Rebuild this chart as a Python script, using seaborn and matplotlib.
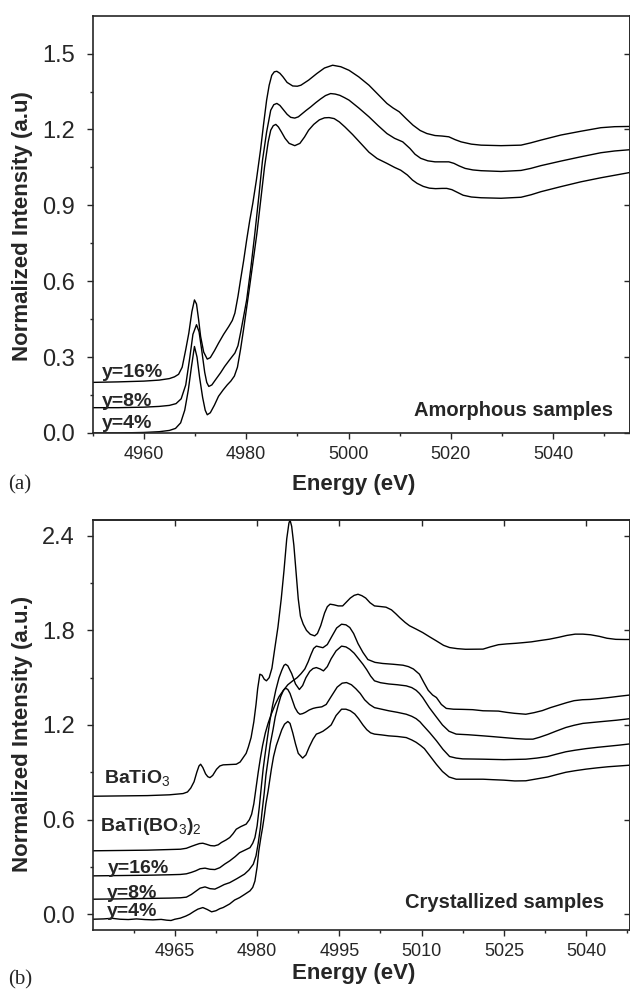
import numpy as np
import pandas as pd
import matplotlib
matplotlib.use("Agg")
import matplotlib.pyplot as plt
import seaborn as sns

# ---------------- data: amorphous samples (panel a), (energy eV, intensity) ----------------
am4 = [(4950, 0.0), (4955, 0.0), (4960, 0.002), (4963, 0.005), (4965, 0.01), (4966.2, 0.018),
       (4967.2, 0.04), (4968.0, 0.09), (4968.7, 0.17), (4969.3, 0.26), (4969.9, 0.342),
       (4970.4, 0.30), (4970.9, 0.22), (4971.5, 0.14), (4972.0, 0.09), (4972.4, 0.072),
       (4973.0, 0.08), (4973.8, 0.11), (4974.6, 0.145), (4975.5, 0.17), (4976.3, 0.19),
       (4977.0, 0.205), (4977.7, 0.225), (4978.3, 0.26), (4978.9, 0.33), (4979.5, 0.41),
       (4980.5, 0.553), (4981.3, 0.67), (4982.1, 0.789), (4982.9, 0.93), (4983.6, 1.053),
       (4984.3, 1.15), (4984.8, 1.197), (4985.3, 1.215), (4985.8, 1.22), (4986.3, 1.21),
       (4986.9, 1.19), (4987.6, 1.165), (4988.4, 1.145), (4989.5, 1.136), (4990.5, 1.145),
       (4991.4, 1.17), (4992.2, 1.197), (4993.2, 1.22), (4994.3, 1.238), (4995.3, 1.246),
       (4996.2, 1.247), (4997.2, 1.243), (4998.2, 1.23), (4999.3, 1.21), (5000.8, 1.18),
       (5002.4, 1.145), (5004.0, 1.11), (5005.6, 1.085), (5007.5, 1.066), (5009.0, 1.05),
       (5010.2, 1.039), (5011.5, 1.02), (5012.5, 1.0), (5013.4, 0.987), (5014.6, 0.975),
       (5015.8, 0.968), (5017.0, 0.966), (5018.3, 0.967), (5019.2, 0.967), (5020.2, 0.962),
       (5021.2, 0.952), (5022.4, 0.94), (5024.0, 0.933), (5025.9, 0.930), (5029.8, 0.928),
       (5033.7, 0.932), (5035.7, 0.942), (5037.6, 0.954), (5041.5, 0.974), (5045.4, 0.993),
       (5049.3, 1.009), (5055, 1.03)]

am8 = [(4950, 0.100), (4955, 0.100), (4960, 0.102), (4963, 0.105), (4965, 0.109),
       (4966.3, 0.116), (4967.3, 0.135), (4968.2, 0.19), (4969.0, 0.30), (4969.6, 0.39),
       (4970.3, 0.428), (4970.8, 0.40), (4971.3, 0.33), (4971.9, 0.24), (4972.3, 0.2),
       (4972.7, 0.184), (4973.3, 0.19), (4974.0, 0.21), (4975.0, 0.238), (4975.8, 0.263),
       (4976.8, 0.29), (4977.8, 0.316), (4978.4, 0.345), (4978.9, 0.395), (4979.5, 0.46),
       (4980.1, 0.526), (4980.9, 0.65), (4981.7, 0.789), (4982.5, 0.94), (4983.2, 1.079),
       (4984.0, 1.19), (4984.8, 1.276), (4985.4, 1.298), (4986.0, 1.303), (4986.6, 1.295),
       (4987.2, 1.28), (4988.0, 1.26), (4988.7, 1.248), (4989.5, 1.245), (4990.2, 1.25),
       (4990.8, 1.26), (4991.7, 1.275), (4992.6, 1.289), (4993.6, 1.306), (4994.5, 1.32),
       (4995.5, 1.334), (4996.5, 1.342), (4997.4, 1.34), (4998.3, 1.335), (4999.2, 1.326),
       (5000.1, 1.316), (5002.0, 1.285), (5004.0, 1.25), (5005.8, 1.215), (5007.5, 1.184),
       (5009.0, 1.165), (5010.6, 1.151), (5012.0, 1.125), (5013.0, 1.102), (5014.1, 1.086),
       (5015.5, 1.076), (5016.9, 1.072), (5018.3, 1.072), (5019.6, 1.072), (5020.6, 1.066),
       (5021.6, 1.056), (5022.8, 1.046), (5024.3, 1.04), (5025.9, 1.037), (5029.8, 1.034),
       (5033.7, 1.038), (5035.6, 1.046), (5037.6, 1.057), (5041.5, 1.075), (5045.4, 1.092),
       (5049.3, 1.108), (5052, 1.115), (5055, 1.12)]

am16 = [(4950, 0.200), (4955, 0.202), (4960, 0.205), (4963, 0.209), (4965, 0.215),
        (4966.0, 0.222), (4966.8, 0.232), (4967.5, 0.26), (4968.2, 0.33), (4968.8, 0.395),
        (4969.4, 0.48), (4969.9, 0.526), (4970.3, 0.51), (4970.7, 0.45), (4971.1, 0.382),
        (4971.7, 0.32), (4972.4, 0.292), (4973.0, 0.298), (4973.8, 0.325), (4974.6, 0.355),
        (4975.6, 0.39), (4976.6, 0.421), (4977.3, 0.445), (4977.8, 0.474), (4978.4, 0.54),
        (4978.9, 0.605), (4979.5, 0.68), (4980.1, 0.763), (4980.7, 0.84), (4981.3, 0.908),
        (4982.0, 1.0), (4982.8, 1.118), (4983.4, 1.22), (4984.0, 1.316), (4984.5, 1.375),
        (4985.0, 1.414), (4985.5, 1.428), (4986.0, 1.43), (4986.6, 1.422), (4987.2, 1.408),
        (4988.0, 1.386), (4989.1, 1.372), (4990.0, 1.371), (4990.7, 1.375), (4992.2, 1.395),
        (4993.8, 1.421), (4995.3, 1.443), (4996.9, 1.454), (4998.5, 1.448), (5000.1, 1.434),
        (5002.0, 1.408), (5004.0, 1.375), (5005.8, 1.338), (5007.5, 1.303), (5008.7, 1.285),
        (5009.9, 1.27), (5011.3, 1.242), (5012.6, 1.217), (5014.0, 1.196), (5015.3, 1.184),
        (5016.9, 1.176), (5018.3, 1.174), (5019.6, 1.171), (5020.8, 1.16), (5022.0, 1.151),
        (5024.0, 1.142), (5025.9, 1.138), (5029.8, 1.136), (5033.7, 1.138), (5035.6, 1.147),
        (5037.6, 1.158), (5041.5, 1.178), (5045.4, 1.193), (5049.3, 1.207), (5052, 1.211),
        (5055, 1.212)]

# ---------------- data: crystallized samples (panel b) ----------------
bto = [(4950, 0.748), (4955, 0.75), (4960, 0.752), (4964, 0.757), (4966.5, 0.765),
       (4967.3, 0.775), (4967.9, 0.80), (4968.5, 0.84), (4969.0, 0.90), (4969.4, 0.94),
       (4969.7, 0.951), (4970.1, 0.93), (4970.6, 0.89), (4971.0, 0.872), (4971.4, 0.866),
       (4971.9, 0.88), (4972.6, 0.919), (4973.2, 0.94), (4973.8, 0.947), (4975.0, 0.949),
       (4976.2, 0.951), (4976.9, 0.965), (4977.4, 0.99), (4978.0, 1.02), (4978.4, 1.06),
       (4978.9, 1.12), (4979.4, 1.22), (4979.8, 1.33), (4980.1, 1.43), (4980.5, 1.522),
       (4980.9, 1.515), (4981.3, 1.49), (4981.7, 1.48), (4982.2, 1.50), (4982.7, 1.56),
       (4983.2, 1.68), (4983.8, 1.821), (4984.4, 2.0), (4984.9, 2.179), (4985.4, 2.38),
       (4985.8, 2.48), (4986.0, 2.50), (4986.3, 2.46), (4986.7, 2.34), (4987.1, 2.17),
       (4987.5, 2.0), (4987.9, 1.89), (4988.4, 1.84), (4989.0, 1.80), (4989.7, 1.775),
       (4990.5, 1.765), (4991.0, 1.78), (4991.6, 1.83), (4992.3, 1.91), (4992.8, 1.95),
       (4993.3, 1.966), (4994.0, 1.962), (4994.8, 1.955), (4995.6, 1.955), (4996.3, 1.98),
       (4997.0, 2.005), (4997.7, 2.022), (4998.4, 2.029), (4999.1, 2.02), (4999.8, 2.005),
       (5000.6, 1.975), (5001.4, 1.955), (5002.5, 1.951), (5003.5, 1.947), (5004.5, 1.93),
       (5005.3, 1.905), (5006.0, 1.881), (5007.0, 1.85), (5007.8, 1.829), (5009.0, 1.808),
       (5010.2, 1.786), (5011.5, 1.758), (5012.7, 1.733), (5014.0, 1.705), (5015.1, 1.691),
       (5016.5, 1.684), (5018.0, 1.68), (5021.2, 1.681), (5022.5, 1.695), (5024.0, 1.709),
       (5025.5, 1.714), (5027.2, 1.718), (5028.5, 1.722), (5030.0, 1.727), (5031.5, 1.735),
       (5033.3, 1.744), (5035.0, 1.756), (5036.5, 1.768), (5038.0, 1.776), (5039.4, 1.776),
       (5040.8, 1.772), (5042.4, 1.762), (5043.8, 1.75), (5045.4, 1.743), (5047, 1.742),
       (5048, 1.742)]

btb = [(4950, 0.402), (4955, 0.404), (4960, 0.406), (4964, 0.41), (4966, 0.412),
       (4967.1, 0.418), (4968.0, 0.43), (4968.8, 0.44), (4969.5, 0.448), (4970.1, 0.45),
       (4970.8, 0.443), (4971.5, 0.435), (4972.2, 0.433), (4972.9, 0.44), (4973.5, 0.455),
       (4974.3, 0.47), (4975.0, 0.486), (4975.6, 0.51), (4976.2, 0.539), (4977.0, 0.555),
       (4978.0, 0.571), (4978.6, 0.6), (4979.0, 0.634), (4979.4, 0.70), (4979.8, 0.80),
       (4980.2, 0.90), (4980.6, 0.99), (4981.0, 1.07), (4981.5, 1.15), (4982.0, 1.21),
       (4982.6, 1.27), (4983.3, 1.33), (4984.0, 1.38), (4984.8, 1.42), (4985.6, 1.455),
       (4986.5, 1.48), (4987.3, 1.50), (4988.0, 1.525), (4988.7, 1.555), (4989.3, 1.60),
       (4989.8, 1.645), (4990.3, 1.685), (4990.8, 1.70), (4991.4, 1.695), (4992.0, 1.69),
       (4992.8, 1.71), (4993.6, 1.76), (4994.5, 1.815), (4995.4, 1.839), (4996.2, 1.835),
       (4996.9, 1.818), (4997.6, 1.78), (4998.4, 1.716), (4999.3, 1.66), (5000.2, 1.615),
       (5001.5, 1.597), (5002.9, 1.59), (5004.8, 1.585), (5006.6, 1.579), (5007.6, 1.57),
       (5008.5, 1.555), (5009.6, 1.522), (5010.4, 1.47), (5011.2, 1.42), (5012.0, 1.39),
       (5012.7, 1.374), (5013.6, 1.33), (5014.5, 1.305), (5015.8, 1.30), (5017.4, 1.299),
       (5019.3, 1.297), (5021.2, 1.29), (5022.7, 1.289), (5024.0, 1.288), (5025.5, 1.28),
       (5026.9, 1.274), (5029.0, 1.268), (5030.5, 1.278), (5032.0, 1.291), (5033.5, 1.31),
       (5035.0, 1.326), (5036.5, 1.342), (5037.8, 1.354), (5039.3, 1.36), (5040.8, 1.362),
       (5042.6, 1.368), (5044.4, 1.375), (5046, 1.382), (5048, 1.39)]

cr16 = [(4950, 0.243), (4955, 0.245), (4960, 0.247), (4964, 0.25), (4966, 0.252),
        (4967.1, 0.256), (4968.0, 0.265), (4968.8, 0.275), (4969.6, 0.288), (4970.5, 0.292),
        (4971.4, 0.285), (4972.3, 0.283), (4973.2, 0.295), (4974.1, 0.318), (4975.0, 0.338),
        (4976.0, 0.365), (4976.8, 0.39), (4977.7, 0.405), (4978.7, 0.422), (4979.2, 0.45),
        (4979.6, 0.486), (4980.0, 0.56), (4980.4, 0.68), (4980.8, 0.82), (4981.1, 0.92),
        (4981.4, 1.0), (4981.8, 1.10), (4982.3, 1.22), (4982.8, 1.32), (4983.4, 1.42),
        (4984.0, 1.50), (4984.5, 1.547), (4984.9, 1.578), (4985.2, 1.585), (4985.6, 1.575),
        (4986.3, 1.526), (4987.0, 1.46), (4987.7, 1.425), (4988.3, 1.45), (4988.9, 1.50),
        (4989.6, 1.54), (4990.2, 1.558), (4990.8, 1.564), (4991.5, 1.555), (4992.1, 1.543),
        (4992.8, 1.57), (4993.5, 1.62), (4994.4, 1.67), (4995.4, 1.70), (4996.2, 1.695),
        (4996.9, 1.68), (4997.7, 1.655), (4998.5, 1.62), (4999.3, 1.585), (5000.0, 1.55),
        (5000.7, 1.51), (5001.4, 1.48), (5002.5, 1.468), (5004.0, 1.46), (5005.6, 1.455),
        (5007.2, 1.448), (5008.2, 1.437), (5009.0, 1.42), (5009.6, 1.40), (5010.2, 1.374),
        (5011.4, 1.31), (5012.7, 1.25), (5013.8, 1.20), (5015.0, 1.16), (5016.3, 1.142),
        (5018.5, 1.138), (5021.2, 1.131), (5023, 1.126), (5025.0, 1.12), (5027, 1.114),
        (5029.0, 1.11), (5030.3, 1.11), (5031.5, 1.122), (5033.0, 1.14), (5034.6, 1.162),
        (5036.3, 1.184), (5037.8, 1.198), (5039.4, 1.21), (5041.2, 1.216), (5043.0, 1.222),
        (5045.5, 1.23), (5048, 1.24)]

cr8 = [(4950, 0.095), (4955, 0.097), (4960, 0.10), (4964, 0.102), (4966, 0.104),
       (4967.1, 0.108), (4968.0, 0.125), (4968.8, 0.145), (4969.6, 0.165), (4970.5, 0.173),
       (4971.4, 0.162), (4972.3, 0.159), (4973.1, 0.172), (4974.0, 0.188), (4975.0, 0.20),
       (4976.3, 0.225), (4977.7, 0.254), (4978.5, 0.28), (4979.3, 0.317), (4979.8, 0.37),
       (4980.2, 0.45), (4980.6, 0.55), (4980.9, 0.65), (4981.3, 0.77), (4981.6, 0.88),
       (4982.0, 0.98), (4982.4, 1.08), (4982.9, 1.17), (4983.3, 1.25), (4983.8, 1.32),
       (4984.3, 1.38), (4984.8, 1.42), (4985.2, 1.433), (4985.6, 1.425), (4986.0, 1.40),
       (4986.5, 1.35), (4986.9, 1.31), (4987.4, 1.28), (4987.8, 1.268), (4988.3, 1.272),
       (4988.8, 1.28), (4989.5, 1.295), (4990.2, 1.305), (4990.8, 1.31), (4991.8, 1.315),
       (4992.6, 1.33), (4993.5, 1.38), (4994.6, 1.44), (4995.5, 1.465), (4996.3, 1.469),
       (4997.2, 1.455), (4998.0, 1.43), (4998.8, 1.40), (4999.6, 1.36), (5000.5, 1.33),
       (5001.4, 1.31), (5002.7, 1.30), (5004.0, 1.29), (5005.6, 1.28), (5007.2, 1.268),
       (5008.2, 1.255), (5009.0, 1.24), (5009.7, 1.22), (5010.2, 1.20), (5011.5, 1.15),
       (5012.7, 1.10), (5013.9, 1.045), (5015.1, 1.00), (5016.3, 0.99), (5017.5, 0.985),
       (5021.2, 0.983), (5025.0, 0.98), (5029.0, 0.983), (5031, 0.99), (5033.0, 1.0),
       (5034.6, 1.015), (5036.3, 1.03), (5038, 1.04), (5040.0, 1.05), (5042, 1.058),
       (5044.0, 1.065), (5046, 1.072), (5048, 1.08)]

cr4 = [(4950, -0.032), (4952, -0.03), (4953.5, -0.026), (4955, -0.032), (4956.5, -0.034),
       (4958, -0.03), (4959.5, -0.034), (4961, -0.036), (4962.5, -0.033), (4963.5, -0.038),
       (4964.3, -0.04), (4965, -0.032), (4966, -0.025), (4967, -0.012), (4967.7, 0.0),
       (4968.5, 0.018), (4969.2, 0.032), (4970.1, 0.042), (4970.9, 0.03), (4971.7, 0.015),
       (4972.5, 0.022), (4973.2, 0.035), (4973.8, 0.042), (4975.0, 0.065), (4975.9, 0.09),
       (4976.8, 0.105), (4977.7, 0.125), (4978.7, 0.148), (4979.2, 0.17), (4979.6, 0.21),
       (4980.0, 0.30), (4980.3, 0.40), (4980.7, 0.49), (4981.0, 0.55), (4981.3, 0.62),
       (4981.6, 0.70), (4982.0, 0.78), (4982.3, 0.85), (4982.6, 0.92), (4983.0, 1.0),
       (4983.5, 1.07), (4984.0, 1.12), (4984.5, 1.17), (4985.0, 1.205), (4985.6, 1.222),
       (4986.0, 1.21), (4986.5, 1.15), (4987.0, 1.08), (4987.5, 1.02), (4988.3, 0.99),
       (4988.9, 1.01), (4989.5, 1.06), (4990.2, 1.11), (4990.8, 1.142), (4991.4, 1.15),
       (4992.0, 1.16), (4992.8, 1.18), (4993.5, 1.20), (4994.4, 1.26), (4995.4, 1.30),
       (4996.2, 1.30), (4997.0, 1.29), (4997.8, 1.27), (4998.5, 1.24), (4999.3, 1.20),
       (5000.0, 1.17), (5000.7, 1.15), (5001.4, 1.142), (5002.7, 1.137), (5004.0, 1.131),
       (5005.6, 1.127), (5007.2, 1.12), (5008.2, 1.105), (5009.0, 1.09), (5009.8, 1.07),
       (5010.5, 1.05), (5011.6, 1.0), (5012.7, 0.95), (5013.8, 0.905), (5015.0, 0.87),
       (5016.3, 0.856), (5018.5, 0.856), (5021.2, 0.856), (5023, 0.853), (5025.0, 0.85),
       (5027, 0.845), (5029.0, 0.846), (5031, 0.858), (5033.0, 0.87), (5034.6, 0.885),
       (5036.3, 0.9), (5038, 0.91), (5040.0, 0.92), (5042, 0.928), (5044.0, 0.935),
       (5046, 0.94), (5048, 0.945)]

amorphous = {"y=16%": am16, "y=8%": am8, "y=4%": am4}
crystallized = {"BaTiO3": bto, "BaTi(BO3)2": btb, "y=16%": cr16, "y=8%": cr8, "y=4%": cr4}

ticks_a = [0.0, 0.3, 0.6, 0.9, 1.2, 1.5]
ticks_b = [0.0, 0.6, 1.2, 1.8, 2.4]
xticks_a = [4960, 4980, 5000, 5020, 5040]
xticks_b = [4965, 4980, 4995, 5010, 5025, 5040]

# ---------------- style ----------------
sns.set_theme(style="ticks")
plt.rcParams["font.family"] = ["Liberation Sans", "DejaVu Sans"]
plt.rcParams["mathtext.fontset"] = "custom"
plt.rcParams["mathtext.rm"] = "Liberation Sans"
plt.rcParams["mathtext.it"] = "Liberation Sans:italic"
plt.rcParams["mathtext.bf"] = "Liberation Sans:bold"
plt.rcParams["axes.linewidth"] = 1.2

fig = plt.figure(figsize=(6.30, 9.91), dpi=100)
ax1 = fig.add_axes([0.147, 0.5631, 0.853, 0.4211])
ax2 = fig.add_axes([0.147, 0.0616, 0.853, 0.4137])


def draw(ax, series):
    frames = []
    for name, pts in series.items():
        e, i = zip(*pts)
        frames.append(pd.DataFrame({"Energy": e, "Intensity": i, "sample": name}))
    df = pd.concat(frames, ignore_index=True)
    sns.lineplot(data=df, x="Energy", y="Intensity", units="sample", estimator=None,
                 sort=False, color="black", lw=1.0, ax=ax, legend=False)


draw(ax1, amorphous)
draw(ax2, crystallized)

for ax in (ax1, ax2):
    for s in ax.spines.values():
        s.set_visible(True)
        s.set_linewidth(1.2)
    ax.tick_params(axis="x", which="major", direction="out", length=4, width=1.0,
                   labelsize=13, pad=5.5, top=False)
    ax.tick_params(axis="x", which="minor", direction="out", length=2.5, width=1.0, top=False)
    ax.tick_params(axis="y", which="major", direction="out", length=4, width=1.0,
                   labelsize=17, pad=9)
    ax.tick_params(axis="y", which="minor", direction="out", length=2.5, width=1.0)
    ax.set_xlabel("Energy (eV)", fontsize=16, fontweight="bold", va="center")

# panel a
ax1.set_xlim(4950, 5055)
ax1.set_ylim(0, 1.65)
ax1.set_xticks(xticks_a)
ax1.set_xticks([4950, 4970, 4990, 5010, 5030, 5050], minor=True)
ax1.set_yticks(ticks_a)
ax1.set_yticklabels([f"{t:.1f}" for t in ticks_a])
ax1.set_yticks([0.15, 0.45, 0.75, 1.05, 1.35], minor=True)
ax1.set_ylabel("Normalized Intensity (a.u)", fontsize=16, fontweight="bold", va="center")
ax1.xaxis.set_label_coords(0.486, -0.1246)
ax1.yaxis.set_label_coords(-0.1297, 0.496)
# inward ticks on the right edge
ax1r = ax1.secondary_yaxis("right")
ax1r.set_yticks(ticks_a)
ax1r.tick_params(direction="in", length=4, width=1.0, labelright=False)

# panel b
ax2.set_xlim(4950, 5048)
ax2.set_ylim(-0.1, 2.5)
ax2.set_xticks(xticks_b)
ax2.set_xticks([4957.5, 4972.5, 4987.5, 5002.5, 5017.5, 5032.5, 5047.5], minor=True)
ax2.set_yticks(ticks_b)
ax2.set_yticklabels([f"{t:.1f}" for t in ticks_b])
ax2.set_yticks([0.3, 0.9, 1.5, 2.1], minor=True)
ax2.set_ylabel("Normalized Intensity (a.u.)", fontsize=16, fontweight="bold", va="center")
ax2.xaxis.set_label_coords(0.486, -0.106)
ax2.yaxis.set_label_coords(-0.1297, 0.478)
ax2r = ax2.secondary_yaxis("right")
ax2r.set_yticks(ticks_b)
ax2r.tick_params(direction="in", length=4, width=1.0, labelright=False)
ax2t = ax2.secondary_xaxis("top")
ax2t.set_xticks(xticks_b)
ax2t.tick_params(direction="in", length=4, width=1.0, labeltop=False)

# curve labels
lab = dict(fontsize=14, fontweight="bold", ha="left", va="baseline")
ax1.text(4951.9, 0.223, "y=16%", **lab)
ax1.text(4951.9, 0.108, "y=8%", **lab)
ax1.text(4951.9, 0.018, "y=4%", **lab)
ax1.text(5051.6, 0.068, "Amorphous samples", fontsize=14.5, fontweight="bold",
         ha="right", va="baseline")

ax2.text(4952.06, 0.834, r"BaTiO$_3$", **lab)
ax2.text(4951.33, 0.528, r"BaTi(BO$_3$)$_2$", **lab)
ax2.text(4952.84, 0.26, "y=16%", **lab)
ax2.text(4952.55, 0.105, "y=8%", **lab)
ax2.text(4952.55, -0.011, "y=4%", **lab)
ax2.text(5043.3, 0.042, "Crystallized samples", fontsize=14.5, fontweight="bold",
         ha="right", va="baseline")

fig.text(0.013, 1 - 485 / 991, "(a)", fontsize=15, family="Liberation Serif", va="center")
fig.text(0.013, 1 - 980 / 991, "(b)", fontsize=15, family="Liberation Serif", va="center")

fig.savefig("out.png", dpi=100)
